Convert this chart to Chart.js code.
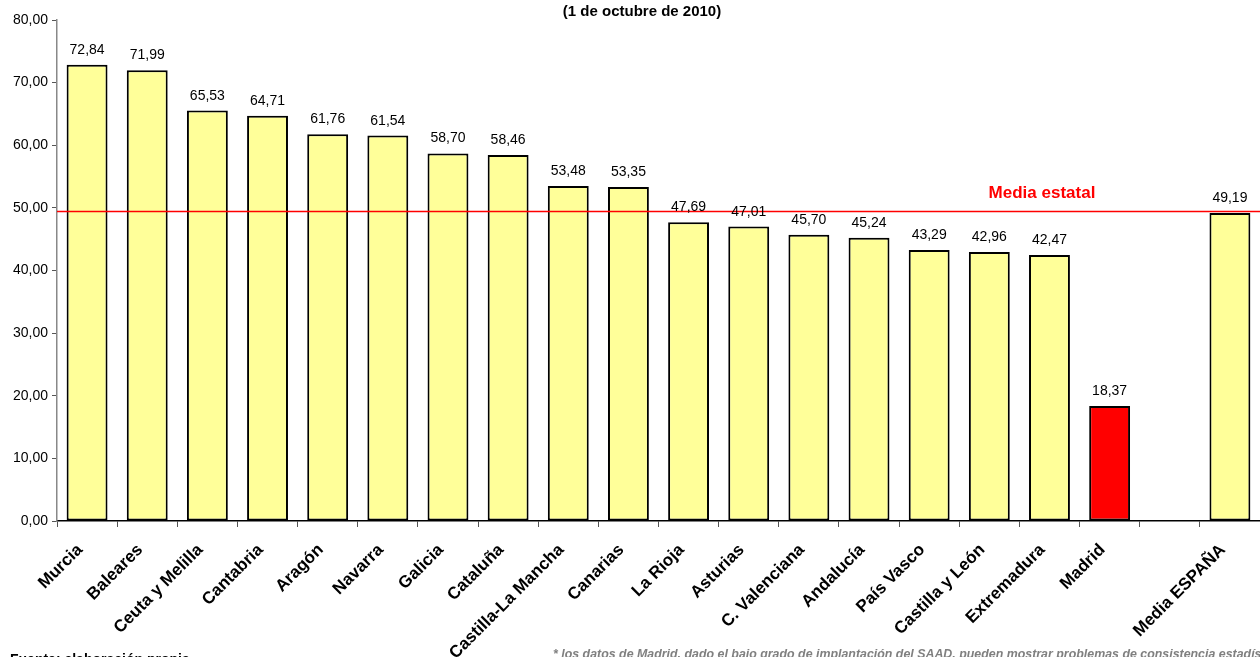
<!DOCTYPE html>
<html>
<head>
<meta charset="utf-8">
<script src="https://cdn.jsdelivr.net/npm/chart.js@4.4.1/dist/chart.umd.min.js"></script>
<style>
  html, body { margin: 0; padding: 0; background: #fff; }
  #wrap { position: relative; width: 1260px; height: 657px; overflow: hidden; }
  canvas { display: block; }
</style>
</head>
<body>
<div id="wrap"><canvas id="c" width="1260" height="657"></canvas></div>
<script>
// Comunidades autónomas, one empty slot before the national average
const categories = [
  'Murcia', 'Baleares', 'Ceuta y Melilla', 'Cantabria', 'Aragón', 'Navarra',
  'Galicia', 'Cataluña', 'Castilla-La Mancha', 'Canarias', 'La Rioja', 'Asturias',
  'C. Valenciana', 'Andalucía', 'País Vasco', 'Castilla y León', 'Extremadura',
  'Madrid', '', 'Media ESPAÑA'
];
const values = [
  72.84, 71.99, 65.53, 64.71, 61.76, 61.54,
  58.70, 58.46, 53.48, 53.35, 47.69, 47.01,
  45.70, 45.24, 43.29, 42.96, 42.47,
  18.37, null, 49.19
];
const mediaEstatal = 49.19;
const yTicks = [0, 10, 20, 30, 40, 50, 60, 70, 80];

const titleText = '(1 de octubre de 2010)';
const lineLabel = 'Media estatal';
const sourceText = 'Fuente: elaboración propia';
const noteText = '* los datos de Madrid, dado el bajo grado de implantación del SAAD, pueden mostrar problemas de consistencia estadística';

const FONT = '"Liberation Sans", Arial, sans-serif';
const fmt = v => v.toFixed(2).replace('.', ',');

const barColors = categories.map(c => c === 'Madrid' ? '#FF0000' : '#FFFF99');

// Horizontal average line, value labels and page texts
const extras = {
  id: 'extras',
  afterDatasetsDraw(chart) {
    const { ctx, chartArea, scales } = chart;
    const meta = chart.getDatasetMeta(0);
    ctx.save();
    // average line
    const yLine = Math.round(scales.y.getPixelForValue(mediaEstatal)) - 1.5;
    ctx.strokeStyle = 'rgb(255,0,0)';
    ctx.lineWidth = 1.3;
    ctx.setLineDash([]);
    ctx.beginPath();
    ctx.moveTo(chartArea.left, yLine);
    ctx.lineTo(chartArea.right, yLine);
    ctx.stroke();
    ctx.fillStyle = 'rgb(255,0,0)';
    ctx.font = 'bold 17px ' + FONT;
    ctx.textAlign = 'center';
    ctx.textBaseline = 'alphabetic';
    ctx.fillText(lineLabel, 1042, yLine - 14);

    // value labels above each bar
    ctx.fillStyle = '#000';
    ctx.font = '14px ' + FONT;
    ctx.textAlign = 'center';
    meta.data.forEach((bar, i) => {
      const v = values[i];
      if (v === null) return;
      ctx.fillText(fmt(v), bar.x, bar.y - 11);
    });

    // title and footer texts
    ctx.font = 'bold 15px ' + FONT;
    ctx.fillText(titleText, 642, 16);
    ctx.textAlign = 'left';
    ctx.font = 'bold 14px ' + FONT;
    ctx.fillText(sourceText, 10, 664);
    ctx.fillStyle = '#808080';
    ctx.font = 'italic bold 12.4px ' + FONT;
    ctx.fillText(noteText, 553, 658);
    ctx.restore();
  }
};

new Chart(document.getElementById('c'), {
  type: 'bar',
  data: {
    labels: categories,
    datasets: [{
      data: values,
      backgroundColor: barColors,
      borderColor: '#000',
      borderWidth: 2,
      borderSkipped: false,
      categoryPercentage: 1,
      barPercentage: 0.68
    }]
  },
  options: {
    responsive: false,
    animation: false,
    devicePixelRatio: 1,
    layout: { padding: { top: 20, right: 0, left: 0, bottom: 0 } },
    plugins: { legend: { display: false }, tooltip: { enabled: false } },
    scales: {
      x: {
        offset: true,
        grid: {
          display: true, drawOnChartArea: false, offset: true,
          color: '#555', tickLength: 6, tickWidth: 1
        },
        border: { display: true, color: '#000', width: 1.5 },
        ticks: {
          autoSkip: false, minRotation: 45, maxRotation: 45, padding: 13,
          labelOffset: -7,
          color: '#000', font: { family: FONT, size: 17, weight: 'bold' }
        },
        afterFit(scale) { scale.height = 136; }
      },
      y: {
        min: 0, max: 80,
        afterBuildTicks(scale) { scale.ticks = yTicks.map(v => ({ value: v })); },
        grid: {
          display: true, drawOnChartArea: false,
          color: '#555', tickLength: 5
        },
        border: { display: true, color: '#888', width: 1.5 },
        ticks: {
          color: '#000', padding: 4,
          font: { family: FONT, size: 14 },
          callback: v => fmt(v)
        },
        afterFit(scale) { scale.width = 57; }
      }
    }
  },
  plugins: [extras]
});
</script>
</body>
</html>
